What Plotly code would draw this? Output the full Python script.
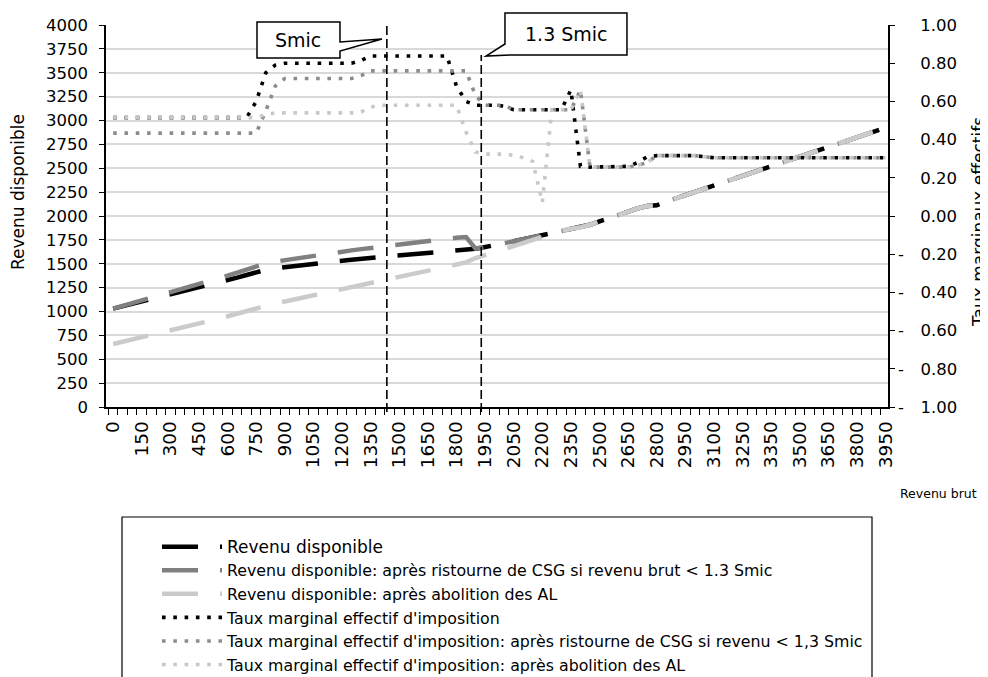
import plotly.graph_objs as go

# revenu brut categories (x axis)
categories = [0, 50, 100, 150, 200, 250, 300, 350, 400, 450, 500, 550, 600, 650, 700, 750,
              800, 850, 900, 950, 1000, 1050, 1100, 1150, 1200, 1250, 1300, 1350, 1400, 1450,
              1500, 1550, 1600, 1650, 1700, 1750, 1800, 1850, 1900, 1950, 2000, 2025, 2050,
              2100, 2150, 2200, 2250, 2300, 2350, 2400, 2450, 2500, 2550, 2600, 2650, 2700,
              2750, 2800, 2850, 2900, 2950, 3000, 3050, 3100, 3150, 3200, 3250, 3300, 3325,
              3350, 3400, 3450, 3500, 3550, 3600, 3650, 3700, 3750, 3800, 3850, 3900, 3950]
cats = [str(c) for c in categories]

# revenu disponible (left axis)
rev_base = [1030, 1054, 1078, 1103, 1128, 1153, 1178, 1202, 1226, 1251, 1276, 1301, 1327, 1354,
            1382, 1410, 1437, 1452, 1465, 1477, 1488, 1499, 1510, 1521, 1532, 1543, 1552, 1560,
            1568, 1576, 1584, 1592, 1601, 1609, 1617, 1625, 1635, 1647, 1658, 1675, 1692, 1710,
            1735, 1757, 1779, 1801, 1823, 1845, 1866, 1880, 1908, 1944, 1980, 2015, 2045, 2080,
            2105, 2112, 2150, 2184, 2218, 2252, 2286, 2320, 2354, 2388, 2422, 2456, 2490, 2524,
            2558, 2592, 2626, 2660, 2694, 2727, 2760, 2793, 2826, 2859, 2892, 2925]
rev_csg = [1030, 1058, 1086, 1114, 1142, 1170, 1198, 1226, 1254, 1283, 1313, 1344, 1375, 1407,
           1439, 1471, 1503, 1522, 1538, 1553, 1568, 1583, 1598, 1612, 1626, 1640, 1653, 1666,
           1679, 1692, 1704, 1716, 1728, 1740, 1752, 1764, 1772, 1779, 1658, 1675, 1692, 1710,
           1735, 1757, 1779, 1801, 1823, 1845, 1866, 1880, 1908, 1944, 1980, 2015, 2045, 2080,
           2105, 2112, 2150, 2184, 2218, 2252, 2286, 2320, 2354, 2388, 2422, 2456, 2490, 2524,
           2558, 2592, 2626, 2660, 2694, 2727, 2760, 2793, 2826, 2859, 2892, 2925]
rev_al = [660, 683, 706, 729, 752, 776, 800, 824, 848, 872, 896, 922, 950, 978,
          1006, 1034, 1062, 1084, 1105, 1126, 1147, 1168, 1189, 1210, 1232, 1254, 1276, 1298,
          1320, 1342, 1363, 1384, 1405, 1426, 1447, 1470, 1492, 1515, 1560, 1590, 1622, 1655,
          1688, 1720, 1750, 1792, 1823, 1845, 1866, 1880, 1908, 1944, 1980, 2015, 2045, 2080,
          2105, 2112, 2150, 2184, 2218, 2252, 2286, 2320, 2354, 2388, 2422, 2456, 2490, 2524,
          2558, 2592, 2626, 2660, 2694, 2727, 2760, 2793, 2826, 2859, 2892, 2925]

# taux marginaux effectifs (right axis)
tm_base = [0.515, 0.515, 0.515, 0.515, 0.515, 0.515, 0.515, 0.515, 0.515, 0.515, 0.515, 0.515,
           0.515, 0.515, 0.515, 0.60, 0.75, 0.79, 0.80, 0.80, 0.80, 0.80, 0.80, 0.80, 0.80, 0.80,
           0.815, 0.838, 0.838, 0.838, 0.838, 0.838, 0.838, 0.838, 0.838, 0.838, 0.68, 0.60,
           0.58, 0.58, 0.58, 0.575, 0.556, 0.556, 0.556, 0.556, 0.556, 0.556, 0.66, 0.26,
           0.256, 0.256, 0.256, 0.256, 0.26, 0.28, 0.31, 0.316, 0.316, 0.316, 0.316, 0.316,
           0.31, 0.305, 0.305, 0.305, 0.305, 0.305, 0.305, 0.305, 0.305, 0.305, 0.305, 0.305,
           0.305, 0.305, 0.305, 0.305, 0.305, 0.305, 0.305, 0.305]
tm_csg = [0.434, 0.434, 0.434, 0.434, 0.434, 0.434, 0.434, 0.434, 0.434, 0.434, 0.434, 0.434,
          0.434, 0.434, 0.434, 0.434, 0.55, 0.68, 0.72, 0.72, 0.72, 0.72, 0.72, 0.72, 0.72, 0.72,
          0.735, 0.76, 0.76, 0.76, 0.76, 0.76, 0.76, 0.76, 0.76, 0.76, 0.76, 0.76, 0.63,
          0.58, 0.58, 0.58, 0.556, 0.556, 0.556, 0.556, 0.556, 0.556, 0.556, 0.66,
          0.256, 0.256, 0.256, 0.256, 0.256, 0.265, 0.28, 0.316, 0.316, 0.316, 0.316, 0.316,
          0.31, 0.305, 0.305, 0.305, 0.305, 0.305, 0.305, 0.305, 0.305, 0.305, 0.305, 0.305,
          0.305, 0.305, 0.305, 0.305, 0.305, 0.305, 0.305, 0.305]
tm_al = [0.515, 0.515, 0.515, 0.515, 0.515, 0.515, 0.515, 0.515, 0.515, 0.515, 0.515, 0.515,
         0.515, 0.515, 0.515, 0.515, 0.53, 0.54, 0.54, 0.54, 0.54, 0.54, 0.54, 0.54, 0.54, 0.54,
         0.545, 0.57, 0.58, 0.58, 0.58, 0.58, 0.58, 0.58, 0.58, 0.58, 0.58, 0.44, 0.335,
         0.324, 0.324, 0.324, 0.318, 0.305, 0.285, 0.07, 0.556, 0.556, 0.556, 0.66,
         0.256, 0.256, 0.256, 0.256, 0.256, 0.265, 0.28, 0.316, 0.316, 0.316, 0.316, 0.316,
         0.31, 0.305, 0.305, 0.305, 0.305, 0.305, 0.305, 0.305, 0.305, 0.305, 0.305, 0.305,
         0.305, 0.305, 0.305, 0.305, 0.305, 0.305, 0.305, 0.305]

names = [
    "<span style='font-size:17px'>Revenu disponible</span>",
    "Revenu disponible: après ristourne de CSG si revenu brut < 1.3 Smic",
    "Revenu disponible: après abolition des AL",
    "Taux marginal effectif d'imposition",
    "Taux marginal effectif d'imposition: après ristourne de CSG si revenu < 1,3 Smic",
    "Taux marginal effectif d'imposition: après abolition des AL",
]

FONT = "DejaVu Sans, Verdana, sans-serif"

# the page body has an 8px margin, so the plot area sits at screen x 106..888, y 25..407
def px_x(p):
    return (p - 106) / 782.0

def px_y(p):
    return (407.0 - p) / 382.0

data = []
rev_series = [rev_base, rev_csg, rev_al]
rev_colors = ['black', '#808080', '#cbcbcb']
for i in range(3):
    data.append(go.Scatter(
        x=cats, y=rev_series[i], mode='lines', name=names[i],
        legendgroup=str(i),
        line=dict(color=rev_colors[i], width=4.5, dash='36px,22px'),
    ))
tm_series = [tm_base, tm_csg, tm_al]
tm_colors = ['black', '#8c8c8c', '#c8c8c8']
for i in range(3):
    data.append(go.Scatter(
        x=cats, y=tm_series[i], mode='lines', name=names[3 + i],
        legendgroup=str(3 + i), yaxis='y2',
        line=dict(color=tm_colors[i], width=3.6, dash='3.6px,7.7px'),
    ))

ticktext = [c if i % 3 == 0 else '' for i, c in enumerate(cats)]
y2_vals = [-1, -0.8, -0.6, -0.4, -0.2, 0, 0.2, 0.4, 0.6, 0.8, 1]
neg = '-\u2003'
pad = '\u2003\u2005\u200a'
y2_text = [neg + '1.00', neg + '0.80', neg + '0.60', neg + '0.40', neg + '0.20', pad + '0.00',
           pad + '0.20', pad + '0.40', pad + '0.60', pad + '0.80', pad + '1.00']

shapes = [
    # Smic and 1.3 Smic markers
    dict(type='line', xref='x', yref='paper', x0=28.7, x1=28.7, y0=px_y(412), y1=px_y(22),
         line=dict(color='black', width=1.6, dash='9px,4px')),
    dict(type='line', xref='x', yref='paper', x0=38.6, x1=38.6, y0=px_y(412), y1=px_y(55),
         line=dict(color='black', width=1.6, dash='9px,4px')),
]

def callout(pts):
    path = 'M ' + ' L '.join('%.4f,%.4f' % (px_x(a), px_y(b)) for a, b in pts) + ' Z'
    return dict(type='path', xref='paper', yref='paper', path=path,
                fillcolor='white', line=dict(color='black', width=1.5))

shapes.append(callout([(257, 22), (340, 22), (340, 42), (382, 39), (340, 51), (340, 58), (257, 58)]))
shapes.append(callout([(505, 13), (627, 13), (627, 55), (510, 55), (486, 56), (505, 44)]))
# legend frame
shapes.append(dict(type='rect', xref='paper', yref='paper', x0=px_x(122), x1=px_x(872),
                   y0=px_y(700), y1=px_y(517), line=dict(color='black', width=1.2),
                   fillcolor='rgba(0,0,0,0)'))

def label(text, x, y, size, angle=0):
    return dict(text=text, x=px_x(x), y=px_y(y), xref='paper', yref='paper',
                xanchor='center', yanchor='middle', showarrow=False, textangle=angle,
                font=dict(size=size, color='black', family=FONT))

annotations = [
    label('Smic', 298, 40, 19),
    label('1.3 Smic', 566, 34, 19),
    label('Revenu disponible', 18, 192, 17, -90),
    label('Taux marginaux effectifs', 979, 222, 17, -90),
    label('Revenu brut', 938, 493, 12.5),
]

layout = go.Layout(
    width=988, height=677,
    margin=dict(l=98, r=108, t=17, b=278, autoexpand=False),
    paper_bgcolor='white', plot_bgcolor='white',
    font=dict(family=FONT, color='black', size=14),
    xaxis=dict(
        type='category', categoryorder='array', categoryarray=cats,
        range=[-0.75, 81.25], automargin=False,
        tickmode='array', tickvals=cats, ticktext=ticktext, tickangle=-90,
        tickson='boundaries', ticks='outside', ticklen=6, tickcolor='black',
        showline=True, linecolor='black', linewidth=1.5, showgrid=False,
        ticklabelstandoff=5,
        tickfont=dict(size=18.5, family=FONT),
    ),
    yaxis=dict(
        range=[0, 4000], dtick=250, ticks='outside', ticklen=5, tickcolor='black',
        showline=True, linecolor='black', linewidth=1.5, automargin=False,
        showgrid=True, gridcolor='#d9d9d9', gridwidth=1.5, zeroline=False,
        ticklabelstandoff=8,
        tickfont=dict(size=16.5, family=FONT),
    ),
    yaxis2=dict(
        overlaying='y', side='right', range=[-1, 1], automargin=False,
        tickmode='array', tickvals=y2_vals, ticktext=y2_text,
        ticks='outside', ticklen=5, tickcolor='black',
        showline=True, linecolor='black', linewidth=1.5, showgrid=False, zeroline=False,
        tickfont=dict(size=16.5, family=FONT),
    ),
    legend=dict(
        x=px_x(157), y=px_y(530), xanchor='left', yanchor='top',
        traceorder='grouped', tracegroupgap=0, itemwidth=60,
        font=dict(size=15.8, family=FONT), bgcolor='rgba(0,0,0,0)',
    ),
    shapes=shapes,
    annotations=annotations,
)

fig = go.Figure(data=data, layout=layout)
fig.write_html("out.html")
